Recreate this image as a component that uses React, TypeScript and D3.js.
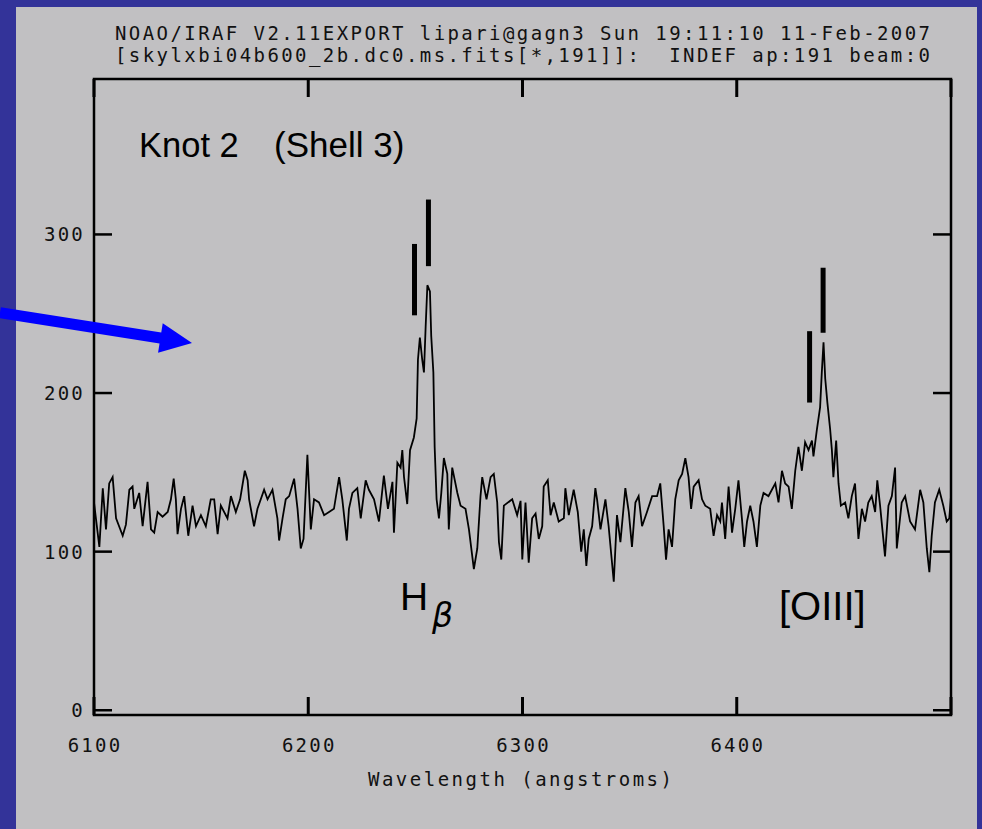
import { useEffect, useRef } from 'react'
import * as d3 from 'd3'

// spectrum (angstroms, counts)
const WAVELENGTH = [
  6100.0, 6102.5, 6104.1, 6105.6, 6107.1, 6108.7, 6110.3, 6113.4, 6114.9, 6116.5,
  6118.0, 6118.8, 6121.1, 6122.7, 6125.0, 6126.6, 6128.1, 6129.7, 6132.0, 6134.4,
  6135.9, 6137.2, 6138.2, 6139.0, 6140.6, 6142.1, 6144.0, 6146.0, 6147.6, 6149.9,
  6152.2, 6154.5, 6156.1, 6157.7, 6159.2, 6162.3, 6163.9, 6166.2, 6168.2, 6170.4,
  6171.7, 6172.4, 6174.7, 6176.3, 6179.4, 6181.0, 6183.3, 6185.6, 6186.4, 6188.0,
  6189.5, 6191.1, 6193.4, 6195.0, 6196.5, 6197.8, 6199.6, 6201.2, 6202.7, 6205.0,
  6207.4, 6209.7, 6212.0, 6214.4, 6215.9, 6218.0, 6219.0, 6220.6, 6222.9, 6224.5,
  6226.8, 6228.3, 6230.7, 6233.0, 6235.3, 6237.2, 6239.3, 6240.0, 6241.6, 6243.1,
  6243.9, 6244.7, 6246.2, 6247.5, 6249.3, 6250.6, 6251.2, 6252.1, 6253.2, 6254.0,
  6254.8, 6255.6, 6256.8, 6257.4, 6258.4, 6259.0, 6259.9, 6261.0, 6262.1, 6263.3,
  6264.9, 6265.6, 6267.2, 6269.6, 6271.1, 6273.4, 6275.0, 6277.3, 6278.9, 6280.4,
  6281.2, 6283.2, 6285.1, 6286.6, 6288.2, 6289.0, 6290.1, 6291.3, 6295.2, 6297.5,
  6299.1, 6299.9, 6301.4, 6302.9, 6304.5, 6306.1, 6307.6, 6309.2, 6309.9, 6311.8,
  6313.1, 6314.6, 6316.9, 6319.3, 6320.0, 6321.6, 6323.9, 6325.8, 6327.4, 6328.6,
  6329.8, 6330.9, 6332.5, 6334.0, 6334.8, 6336.4, 6338.7, 6340.2, 6342.6, 6344.1,
  6345.7, 6348.0, 6349.6, 6351.1, 6352.7, 6354.2, 6355.8, 6358.1, 6360.5, 6362.8,
  6364.3, 6365.9, 6367.0, 6368.2, 6369.8, 6371.3, 6372.9, 6374.5, 6376.0, 6377.5,
  6378.7, 6379.9, 6382.2, 6383.8, 6385.3, 6387.6, 6389.2, 6390.8, 6392.3, 6393.1,
  6394.6, 6396.2, 6397.8, 6399.3, 6400.8, 6402.4, 6403.5, 6404.8, 6406.3, 6407.8,
  6409.4, 6411.0, 6412.5, 6414.8, 6416.4, 6418.0, 6419.5, 6421.1, 6422.6, 6424.2,
  6425.7, 6427.3, 6428.8, 6430.4, 6431.9, 6433.5, 6435.1, 6435.8, 6437.4, 6438.9,
  6439.7, 6440.5, 6441.3, 6442.3, 6443.6, 6444.4, 6445.1, 6446.4, 6447.5, 6448.6,
  6450.6, 6452.1, 6453.7, 6455.2, 6456.8, 6458.4, 6459.9, 6461.4, 6463.0, 6464.6,
  6465.6, 6466.9, 6469.2, 6470.8, 6472.4, 6473.9, 6474.7, 6477.0, 6478.6, 6480.9,
  6483.2, 6485.6, 6487.1, 6488.7, 6489.9, 6491.0, 6492.5, 6494.5, 6496.4, 6498.0,
  6499.2, 6500.0,
]

const FLUX = [
  131, 103, 140, 114, 143, 147, 121, 110, 117, 139,
  141, 127, 137, 116, 144, 114, 112, 125, 122, 125,
  133, 146, 133, 111, 127, 135, 110, 129, 116, 123,
  116, 133, 133, 111, 129, 121, 135, 125, 133, 151,
  145, 133, 116, 127, 139, 133, 139, 121, 107, 121,
  133, 135, 146, 127, 102, 108, 161, 114, 133, 131,
  123, 125, 127, 147, 133, 107, 127, 137, 140, 121,
  145, 139, 133, 119, 148, 127, 144, 112, 156, 153,
  164, 147, 130, 164, 172, 184, 221, 235, 221, 213,
  242, 268, 264, 236, 213, 166, 133, 121, 137, 159,
  149, 114, 153, 137, 129, 127, 114, 89, 102, 135,
  147, 133, 147, 149, 131, 106, 95, 129, 133, 123,
  132, 95, 131, 93, 121, 124, 108, 116, 141, 145,
  123, 131, 119, 121, 140, 123, 139, 125, 100, 114,
  91, 108, 116, 140, 133, 114, 133, 116, 81, 123,
  106, 140, 125, 103, 131, 135, 116, 125, 135, 135,
  143, 116, 95, 114, 103, 133, 145, 149, 159, 147,
  127, 141, 145, 133, 129, 127, 110, 123, 119, 131,
  108, 141, 112, 127, 145, 121, 103, 119, 129, 119,
  103, 129, 137, 135, 139, 143, 131, 151, 143, 141,
  127, 151, 166, 151, 169, 164, 170, 160, 177, 191,
  213, 232, 209, 194, 177, 164, 147, 170, 143, 129,
  131, 121, 135, 143, 108, 127, 119, 131, 135, 125,
  145, 129, 97, 129, 135, 153, 102, 131, 135, 119,
  114, 139, 131, 102, 87, 110, 131, 139, 129, 119,
  121, 135,
]

const X_TICKS = [6100, 6200, 6300, 6400, 6500]
const X_TICK_LABELS = [6100, 6200, 6300, 6400]
const Y_TICKS = [0, 100, 200, 300]

const HEADER_LINES = [
  'NOAO/IRAF V2.11EXPORT lipari@gagn3 Sun 19:11:10 11-Feb-2007',
  '[skylxbi04b600_2b.dc0.ms.fits[*,191]]:  INDEF ap:191 beam:0',
]

// line identification bars: wavelength, flux from, flux to
const LINE_MARKS = [
  { wl: 6249.6, lo: 249, hi: 294 },
  { wl: 6256.1, lo: 280, hi: 322 },
  { wl: 6434.0, lo: 194, hi: 239 },
  { wl: 6440.3, lo: 238, hi: 279 },
]

const W = 982
const H = 829
const MONO = '"DejaVu Sans Mono", "Liberation Mono", monospace'
const SANS = '"Liberation Sans", Arial, sans-serif'

export default function App() {
  const svgRef = useRef<SVGSVGElement>(null)

  useEffect(() => {
    if (!svgRef.current) return
    const svg = d3.select(svgRef.current)
    svg.selectAll('*').remove()

    const x = d3.scaleLinear().domain([6100, 6500]).range([94, 951])
    const y = d3.scaleLinear().domain([-3, 398]).range([715, 79])
    const [x0, x1] = x.range()
    const [y0, y1] = y.range()
    const tickLen = 18

    // slide background
    svg.append('rect').attr('width', W).attr('height', H).attr('fill', '#333399')
    svg.append('rect').attr('x', 16).attr('y', 7).attr('width', 961).attr('height', H - 7).attr('fill', '#c1c0c2')

    // header
    HEADER_LINES.forEach((t, i) => {
      svg.append('text')
        .attr('x', 115).attr('y', 40 + i * 22)
        .attr('font-family', MONO).attr('font-size', 19)
        .attr('textLength', 815).attr('lengthAdjust', 'spacing')
        .attr('fill', '#111')
        .style('white-space', 'pre')
        .text(t)
    })

    const g = svg.append('g')

    // spectrum
    const line = d3.line<number>()
      .x((_, i) => x(WAVELENGTH[i]))
      .y(d => y(d))
    g.append('path')
      .datum(FLUX)
      .attr('d', line)
      .attr('fill', 'none')
      .attr('stroke', '#000')
      .attr('stroke-width', 1.8)
      .attr('stroke-linejoin', 'miter')

    // frame
    g.append('rect')
      .attr('x', x0).attr('y', y1)
      .attr('width', x1 - x0).attr('height', y0 - y1)
      .attr('fill', 'none').attr('stroke', '#000').attr('stroke-width', 2.5)

    // ticks (inward, all four sides)
    X_TICKS.forEach(t => {
      g.append('line').attr('x1', x(t)).attr('x2', x(t)).attr('y1', y0).attr('y2', y0 - tickLen)
        .attr('stroke', '#000').attr('stroke-width', 3)
      g.append('line').attr('x1', x(t)).attr('x2', x(t)).attr('y1', y1).attr('y2', y1 + tickLen)
        .attr('stroke', '#000').attr('stroke-width', 3)
    })
    Y_TICKS.forEach(t => {
      g.append('line').attr('x1', x0).attr('x2', x0 + tickLen).attr('y1', y(t)).attr('y2', y(t))
        .attr('stroke', '#000').attr('stroke-width', 2.5)
      g.append('line').attr('x1', x1).attr('x2', x1 - tickLen).attr('y1', y(t)).attr('y2', y(t))
        .attr('stroke', '#000').attr('stroke-width', 2.5)
    })

    // tick labels
    X_TICK_LABELS.forEach(t => {
      g.append('text')
        .attr('x', x(t) + 1).attr('y', 752)
        .attr('text-anchor', 'middle')
        .attr('font-family', MONO).attr('font-size', 19)
        .attr('letter-spacing', 2.2)
        .attr('fill', '#111')
        .text(String(t))
    })
    Y_TICKS.forEach(t => {
      g.append('text')
        .attr('x', 85).attr('y', y(t) + 7)
        .attr('text-anchor', 'end')
        .attr('font-family', MONO).attr('font-size', 19)
        .attr('letter-spacing', 2.2)
        .attr('fill', '#111')
        .text(String(t))
    })

    // axis title
    g.append('text')
      .attr('x', 368).attr('y', 786)
      .attr('font-family', MONO).attr('font-size', 19)
      .attr('textLength', 304).attr('lengthAdjust', 'spacing')
      .attr('fill', '#111')
      .text('Wavelength (angstroms)')

    // line markers
    LINE_MARKS.forEach(m => {
      g.append('line')
        .attr('x1', x(m.wl)).attr('x2', x(m.wl))
        .attr('y1', y(m.lo)).attr('y2', y(m.hi))
        .attr('stroke', '#000').attr('stroke-width', 5)
    })

    // annotations
    g.append('text').attr('x', 139).attr('y', 157)
      .attr('font-family', SANS).attr('font-size', 34.5).attr('fill', '#000').text('Knot 2')
    g.append('text').attr('x', 274).attr('y', 157)
      .attr('font-family', SANS).attr('font-size', 35).attr('fill', '#000').text('(Shell 3)')
    g.append('text').attr('x', 400).attr('y', 610)
      .attr('font-family', SANS).attr('font-size', 39).attr('fill', '#000').text('H')
    g.append('text').attr('x', 432).attr('y', 627)
      .attr('font-family', '"DejaVu Sans", sans-serif').attr('font-style', 'italic')
      .attr('font-size', 33).attr('fill', '#000').text('β')
    g.append('text').attr('x', 779).attr('y', 620)
      .attr('font-family', SANS).attr('font-size', 40).attr('fill', '#000').text('[OIII]')

    // blue pointer arrow
    const tip = [192, 343]
    const ang = Math.atan2(5, 31.6)
    const d = [Math.cos(ang), Math.sin(ang)]
    const n = [-Math.sin(ang), Math.cos(ang)]
    const shaft = 5.5, headLen = 32, headHalf = 15
    const L = tip[0] / d[0]
    const S = [tip[0] - L * d[0], tip[1] - L * d[1]]
    const B = [tip[0] - headLen * d[0], tip[1] - headLen * d[1]]
    const pts = [
      [S[0] + n[0] * shaft, S[1] + n[1] * shaft],
      [B[0] + n[0] * shaft, B[1] + n[1] * shaft],
      [B[0] + n[0] * headHalf, B[1] + n[1] * headHalf],
      tip,
      [B[0] - n[0] * headHalf, B[1] - n[1] * headHalf],
      [B[0] - n[0] * shaft, B[1] - n[1] * shaft],
      [S[0] - n[0] * shaft, S[1] - n[1] * shaft],
    ]
    svg.append('polygon')
      .attr('points', pts.map(p => p.join(',')).join(' '))
      .attr('fill', '#0000ff')
  }, [])

  return (
    <svg
      ref={svgRef}
      width={W}
      height={H}
      style={{ position: 'absolute', left: 0, top: 0, display: 'block' }}
    />
  )
}
